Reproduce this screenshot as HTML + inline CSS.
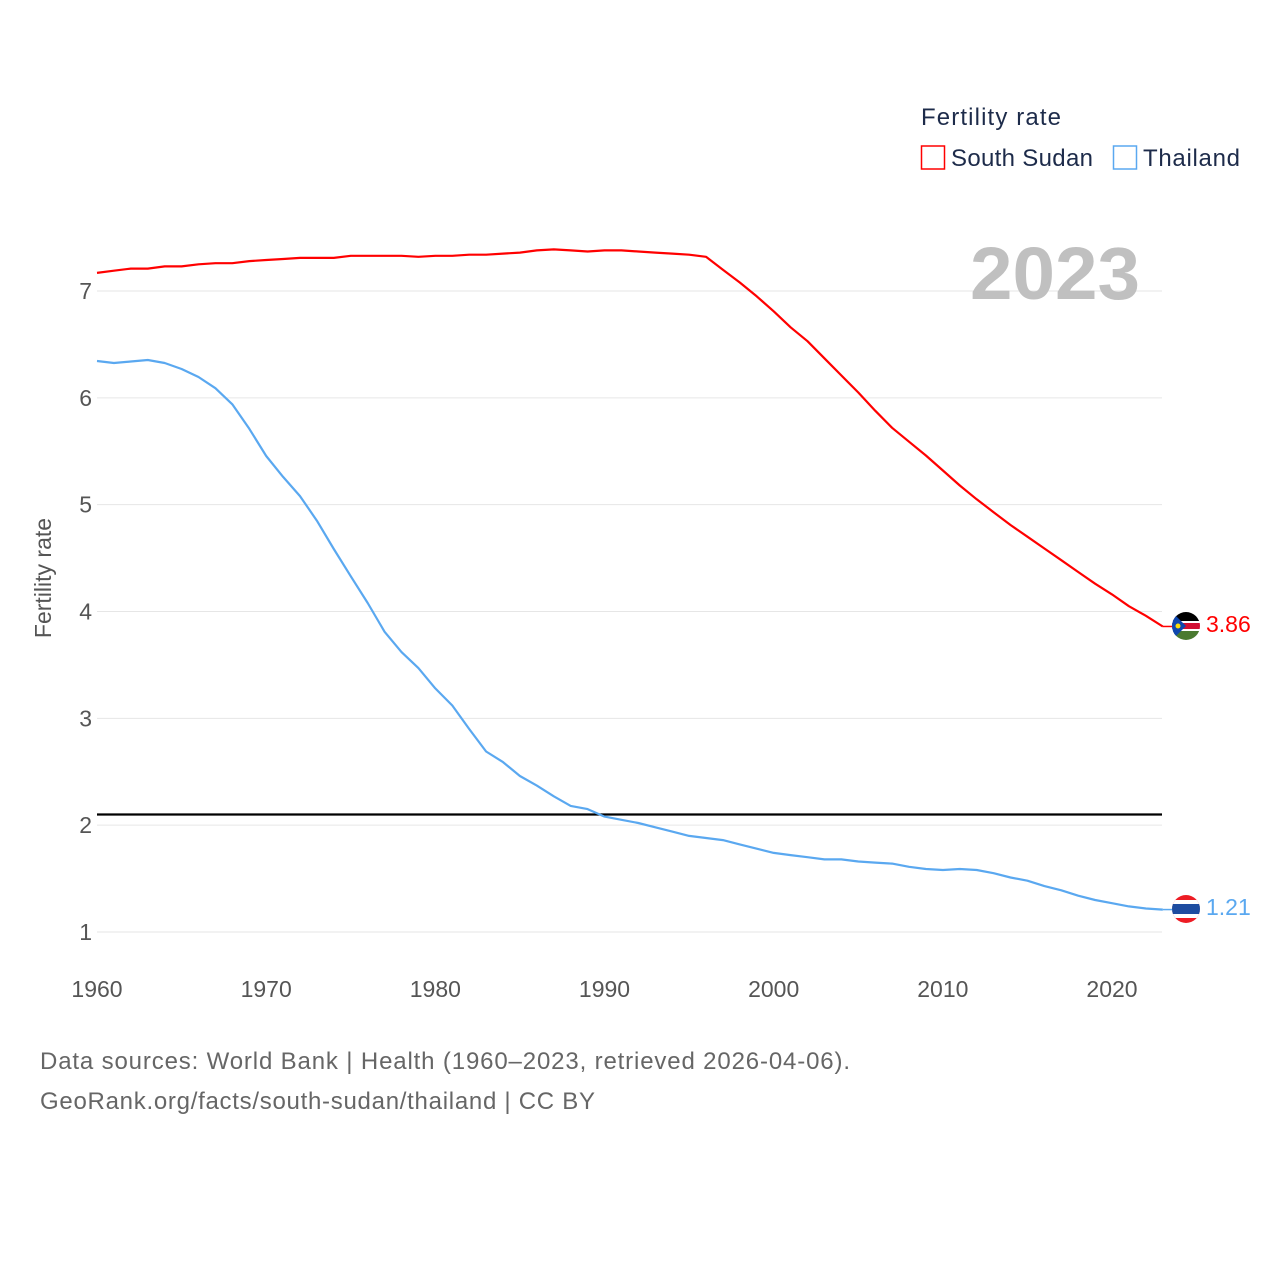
<!DOCTYPE html>
<html><head><meta charset="utf-8"><style>
body{margin:0;background:#fff;}
svg text{font-family:"Liberation Sans",sans-serif;}
</style></head><body>
<svg id="chart" width="1280" height="1280" viewBox="0 0 1280 1280" xmlns="http://www.w3.org/2000/svg">
<defs>
<clipPath id="c1"><circle cx="1186" cy="626" r="14"/></clipPath>
<clipPath id="c2"><circle cx="1186" cy="909" r="14"/></clipPath>
</defs>
<g id="grid"></g>
<g id="yticks"></g>
<g id="xticks"></g>
<text x="51" y="578" transform="rotate(-90 51 578)" text-anchor="middle" font-size="23" fill="#555">Fertility rate</text>
<g id="series"></g>
<text x="970" y="299" textLength="170" lengthAdjust="spacingAndGlyphs" font-size="74" font-weight="bold" fill="#c0c0c0">2023</text>
<g>
<text x="921" y="125" font-size="24" textLength="140" fill="#1d2b4a">Fertility rate</text>
<g><rect x="921.5" y="146" width="23" height="23" fill="none" stroke="#f00" stroke-width="1.5"/><text x="951" y="166" font-size="24" textLength="142" fill="#1d2b4a">South Sudan</text></g>
<g><rect x="1113.5" y="146" width="23" height="23" fill="none" stroke="#5aa8f0" stroke-width="1.5"/><text x="1143" y="166" font-size="24" textLength="97" fill="#1d2b4a">Thailand</text></g>
</g>
<g clip-path="url(#c1)">
<rect x="1172" y="612" width="28" height="9" fill="#000"/><rect x="1172" y="621" width="28" height="2" fill="#fff"/>
<rect x="1172" y="623" width="28" height="6" fill="#d21034"/><rect x="1172" y="629" width="28" height="2" fill="#fff"/>
<rect x="1172" y="631" width="28" height="9" fill="#4a7a30"/><polygon points="1172,612 1186,626 1172,640" fill="#0f47af"/>
<circle cx="1178" cy="626" r="2.5" fill="#fcdd09"/>
</g>
<g clip-path="url(#c2)">
<rect x="1172" y="895" width="28" height="28" fill="#ed1c24"/><rect x="1172" y="900" width="28" height="18" fill="#fff"/><rect x="1172" y="904" width="28" height="10" fill="#1e4ca0"/>
</g>
<text x="1206" y="632" font-size="23" fill="#f00">3.86</text>
<text x="1206" y="915" font-size="23" fill="#5aa8f0">1.21</text>
<text x="40" y="1069" font-size="24" textLength="810" fill="#666">Data sources: World Bank | Health (1960–2023, retrieved 2026-04-06).</text>
<text x="40" y="1109" font-size="24" textLength="555" fill="#666">GeoRank.org/facts/south-sudan/thailand | CC BY</text>
</svg>
<script>
const startYear = 1960;
const southSudan = [7.17,7.19,7.21,7.21,7.23,7.23,7.25,7.26,7.26,7.28,7.29,7.30,7.31,7.31,7.31,7.33,7.33,7.33,7.33,7.32,7.33,7.33,7.34,7.34,7.35,7.36,7.38,7.39,7.38,7.37,7.38,7.38,7.37,7.36,7.35,7.34,7.32,7.20,7.08,6.95,6.81,6.66,6.53,6.37,6.21,6.05,5.88,5.72,5.59,5.46,5.32,5.18,5.05,4.93,4.81,4.70,4.59,4.48,4.37,4.26,4.16,4.05,3.96,3.86];
const thailand = [6.345,6.326,6.34,6.354,6.326,6.27,6.195,6.09,5.94,5.71,5.456,5.26,5.08,4.85,4.585,4.33,4.08,3.81,3.62,3.47,3.28,3.12,2.90,2.69,2.59,2.46,2.37,2.27,2.18,2.15,2.08,2.05,2.02,1.98,1.94,1.90,1.88,1.86,1.82,1.78,1.74,1.72,1.70,1.68,1.68,1.66,1.65,1.64,1.61,1.59,1.58,1.59,1.58,1.55,1.51,1.48,1.43,1.39,1.34,1.30,1.27,1.24,1.22,1.21];
const yTicks = [1,2,3,4,5,6,7];
const xTicks = [1960,1970,1980,1990,2000,2010,2020];
const replacement = [2.1];
const NS="http://www.w3.org/2000/svg";
const x = yr => 97 + (yr-1960)*16.917;
const y = v => 932 - (v-1)*106.83;
const svg=document.getElementById('chart');
function mk(tag,attrs,parent){const e=document.createElementNS(NS,tag);for(const k in attrs)e.setAttribute(k,attrs[k]);parent.appendChild(e);return e;}
const grid=document.getElementById('grid'),yt=document.getElementById('yticks'),xt=document.getElementById('xticks');
yTicks.forEach(v=>{
  const l=mk('line',{x1:97,x2:1162,y1:y(v),y2:y(v),stroke:'#e6e6e6','stroke-width':1},grid);
  
  
  const t=mk('text',{x:92,y:y(v)+8,'text-anchor':'end','font-size':23,fill:'#555'},yt);
  t.textContent=v;
  
  
});
xTicks.forEach(v=>{
  const t=mk('text',{x:x(v),y:997,'text-anchor':'middle','font-size':23,fill:'#555'},xt);
  t.textContent=v;
  
  
});
const series=document.getElementById('series');
replacement.forEach(v=>{
  const l=mk('line',{x1:97,x2:1162,y1:y(v),y2:y(v),stroke:'#000','stroke-width':2.2},series);
  
  
});
function line(data,color,name){
  const d=data.map((v,i)=>(i?'L':'M')+x(startYear+i).toFixed(1)+','+y(v).toFixed(1)).join(' ');
  const p=mk('path',{d:d,fill:'none',stroke:color,'stroke-width':2.2,'stroke-linejoin':'round'},series);
  
  
  const last=data[data.length-1];
  const c=mk('line',{x1:x(startYear+data.length-1),x2:1172,y1:y(last),y2:y(last),stroke:color,'stroke-width':1.5},series);
  
  
}
line(southSudan,'#ff0000','line-south-sudan');
line(thailand,'#5aa8f0','line-thailand');
</script>
</body></html>
